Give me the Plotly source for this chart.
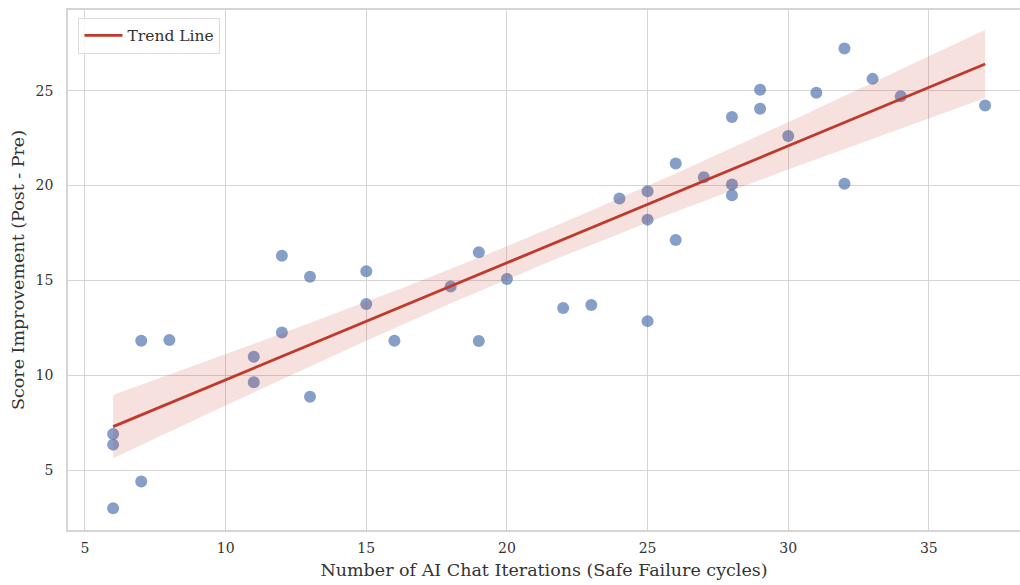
import numpy as np
import plotly.graph_objects as go

# Data
iterations = [6, 6, 6, 7, 7, 8, 11, 11, 12, 12, 13, 13, 15, 15, 16, 18, 19, 19, 20,
              22, 23, 24, 25, 25, 25, 26, 26, 27, 28, 28, 28, 29, 29, 30, 31, 32, 32,
              33, 34, 37]
improvement = [2.99, 6.34, 6.90, 4.40, 11.81, 11.85, 10.97, 9.63, 12.25, 16.30, 8.86,
               15.19, 13.75, 15.48, 11.81, 14.67, 16.48, 11.80, 15.07,
               13.54, 13.70, 19.31, 19.70, 18.20, 12.85, 21.16, 17.13, 20.44, 23.61,
               20.05, 19.49, 25.05, 24.05, 22.61, 24.89, 27.22, 20.09,
               25.62, 24.70, 24.21]
x_ticks = [5, 10, 15, 20, 25, 30, 35]
y_ticks = [5, 10, 15, 20, 25]

x = np.array(iterations, dtype=float)
y = np.array(improvement, dtype=float)
n = len(x)
slope, intercept = np.polyfit(x, y, 1)
xs = np.linspace(x.min(), x.max(), 100)
ys = slope * xs + intercept
resid = y - (slope * x + intercept)
s = np.sqrt(np.sum(resid ** 2) / (n - 2))
sxx = np.sum((x - x.mean()) ** 2)
t_crit = 2.024
half = t_crit * s * np.sqrt(1.0 / n + (xs - x.mean()) ** 2 / sxx)

FONT = "DejaVu Serif"
TXT = "#333333"
GRID = "#d5d5d5"

fig = go.Figure()
fig.add_trace(go.Scatter(
    x=x, y=y, mode="markers", showlegend=False,
    marker=dict(size=12, color="rgba(76,114,176,0.68)", line=dict(width=0)),
))
fig.add_trace(go.Scatter(
    x=np.concatenate([xs, xs[::-1]]),
    y=np.concatenate([ys + half, (ys - half)[::-1]]),
    fill="toself", fillcolor="rgba(192,57,43,0.15)",
    line=dict(width=0), mode="lines", hoverinfo="skip", showlegend=False,
))
fig.add_trace(go.Scatter(
    x=xs, y=ys, mode="lines", name="Trend Line",
    line=dict(color="#C0392B", width=2.8),
))

fig.update_layout(
    width=1020, height=585,
    margin=dict(l=68, r=0, t=10, b=55, autoexpand=False),
    paper_bgcolor="white", plot_bgcolor="white",
    font=dict(family=FONT, color=TXT, size=14),
    legend=dict(
        x=0.011, y=0.985, xanchor="left", yanchor="top",
        bgcolor="rgba(255,255,255,0.85)", bordercolor="#dddddd", borderwidth=1,
        font=dict(family=FONT, size=15.5, color=TXT),
        itemwidth=38, tracegroupgap=0,
    ),
)
fig.update_xaxes(
    range=[4.396, 38.24], tickvals=x_ticks, ticktext=[str(v) for v in x_ticks],
    showgrid=True, gridcolor=GRID, gridwidth=1, zeroline=False,
    showline=True, linecolor=GRID, linewidth=1.5, mirror=True,
    ticks="", ticklabelstandoff=4, automargin=False,
    title=dict(text="Number of AI Chat Iterations (Safe Failure cycles)",
               font=dict(family=FONT, size=17.5, color=TXT), standoff=9),
    tickfont=dict(family=FONT, size=14, color=TXT),
)
fig.update_yaxes(
    range=[1.84, 29.25], tickvals=y_ticks, ticktext=[str(v) for v in y_ticks],
    showgrid=True, gridcolor=GRID, gridwidth=1, zeroline=False,
    showline=True, linecolor=GRID, linewidth=1.5, mirror=False,
    ticks="", ticklabelstandoff=10, automargin=False,
    title=dict(text="Score Improvement (Post - Pre)",
               font=dict(family=FONT, size=17.5, color=TXT), standoff=6),
    tickfont=dict(family=FONT, size=14, color=TXT),
)

fig.write_html(
    "out.html",
    config={"displayModeBar": False},
    post_script="document.body.style.margin='0';document.body.style.overflow='hidden';",
)
